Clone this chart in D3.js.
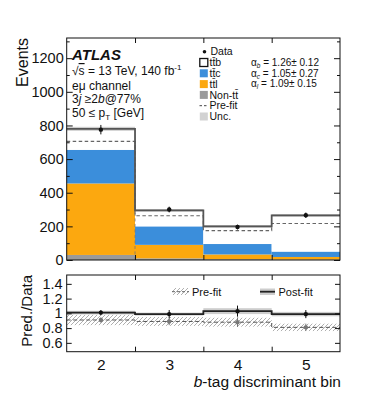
<!DOCTYPE html>
<html>
<head>
<meta charset="utf-8">
<script src="https://cdn.jsdelivr.net/npm/d3@7"></script>
<style>
  body { margin: 0; background: #fff; }
  text { font-family: "Liberation Sans", Arial, sans-serif; fill: #111; }
</style>
</head>
<body>
<div id="chart"></div>
<script>
// values
var bins = [2, 3, 4, 5];
var nonTT = [30, 10, 5, 3];
var ttl = [425, 80, 28, 15];
var ttc = [200, 110, 62, 32];
var ttb = [125, 95, 105, 215];
var dataVals = [775, 300, 196, 266];
var dataErr = [28, 17, 14, 16];
var preFit = [705, 263, 175, 217];
var postUnc = [12, 8, 8, 8];
var yTicks = [0, 200, 400, 600, 800, 1000, 1200];
var ratioTicks = [0.6, 0.8, 1, 1.2, 1.4];
var postRatio = [1.01, 0.99, 1.03, 0.99];
var postRatioErr = [0.035, 0.055, 0.075, 0.055];
var postBand = [0.025, 0.02, 0.04, 0.03];
var preRatio = [0.91, 0.89, 0.88, 0.81];
var preRatioErr = [0.035, 0.05, 0.065, 0.05];
var preBand = [0.07, 0.06, 0.06, 0.05];

var keys = ["nonTT", "ttl", "ttc", "ttb"];
var colors = { nonTT: "#9a9a9a", ttl: "#fca80f", ttc: "#3b8edb", ttb: "#ffffff" };

var rows = bins.map(function(b, i) {
  return { bin: b, nonTT: nonTT[i], ttl: ttl[i], ttc: ttc[i], ttb: ttb[i] };
});
var stacked = d3.stack().keys(keys)(rows);
var total = rows.map(function(r) { return r.nonTT + r.ttl + r.ttc + r.ttb; });

var W = 374, H = 397;
var L = 66.7, R = 340;
var svg = d3.select("#chart").append("svg").attr("width", W).attr("height", H);

var x = d3.scaleLinear().domain([1.5, 5.5]).range([L, R]);
var y = d3.scaleLinear().domain([0, 1320]).range([260, 38]);
var yr = d3.scaleLinear().domain([0.48, 1.52]).range([351.7, 275]);

var defs = svg.append("defs");
var pat = defs.append("pattern").attr("id", "hatch").attr("patternUnits", "userSpaceOnUse")
  .attr("width", 4).attr("height", 4);
pat.append("path").attr("d", "M-1,5 L5,-1").attr("stroke", "#9a9a9a").attr("stroke-width", 0.8);

function steps(vals, yscale) {
  var pts = [];
  vals.forEach(function(v, i) {
    pts.push([x(bins[i] - 0.5), yscale(v)]);
    pts.push([x(bins[i] + 0.5), yscale(v)]);
  });
  return d3.line()(pts);
}

// ---------- main panel ----------
var main = svg.append("g");
stacked.forEach(function(layer) {
  main.selectAll(null).data(layer).enter().append("rect")
    .attr("x", function(d, i) { return x(bins[i] - 0.5); })
    .attr("width", function(d, i) { return x(bins[i] + 0.5) - x(bins[i] - 0.5); })
    .attr("y", function(d) { return y(d[1]); })
    .attr("height", function(d) { return y(d[0]) - y(d[1]); })
    .attr("fill", colors[layer.key]);
});

// uncertainty band
main.selectAll(null).data(total).enter().append("rect")
  .attr("x", function(d, i) { return x(bins[i] - 0.5); })
  .attr("width", function(d, i) { return x(bins[i] + 0.5) - x(bins[i] - 0.5); })
  .attr("y", function(d, i) { return y(d + postUnc[i]); })
  .attr("height", function(d, i) { return y(d - postUnc[i]) - y(d + postUnc[i]); })
  .attr("fill", "#cfcfcf");

// pre-fit
main.append("path").attr("d", steps(preFit, y)).attr("fill", "none")
  .attr("stroke", "#666").attr("stroke-width", 1.2).attr("stroke-dasharray", "3.5,2.5");
main.append("line").attr("x1", x(2.5)).attr("x2", x(2.5)).attr("y1", y(preFit[0])).attr("y2", y(0))
  .attr("stroke", "#777").attr("stroke-width", 0.8).attr("stroke-dasharray", "3,2.5");

// post-fit total
main.append("path").attr("d", steps(total, y)).attr("fill", "none")
  .attr("stroke", "#555").attr("stroke-width", 1.8);

// data
var dg = main.selectAll(null).data(dataVals).enter().append("g");
dg.append("line")
  .attr("x1", function(d, i) { return x(bins[i]); }).attr("x2", function(d, i) { return x(bins[i]); })
  .attr("y1", function(d, i) { return y(d - dataErr[i]); }).attr("y2", function(d, i) { return y(d + dataErr[i]); })
  .attr("stroke", "#111").attr("stroke-width", 1);
dg.append("circle").attr("cx", function(d, i) { return x(bins[i]); }).attr("cy", function(d) { return y(d); })
  .attr("r", 2.2).attr("fill", "#111");

// axes main
function frame(g, top, bottom) {
  g.append("rect").attr("x", L).attr("y", top).attr("width", R - L).attr("height", bottom - top)
    .attr("fill", "none").attr("stroke", "#111").attr("stroke-width", 1);
}
frame(main, 38, 260);

function styleAxis(g) {
  g.select(".domain").remove();
  g.selectAll(".tick line").attr("stroke", "#111");
}
main.append("g").attr("transform", "translate(" + L + ",0)")
  .call(d3.axisLeft(y).tickValues(yTicks).tickSize(-6).tickPadding(3).tickFormat(d3.format("d")))
  .call(styleAxis)
  .selectAll("text").style("font-size", "14.5px").attr("fill", "#111");
main.append("g").attr("transform", "translate(" + L + ",0)")
  .call(d3.axisLeft(y).tickValues(d3.range(100, 1320, 200)).tickSize(-3).tickFormat(""))
  .call(styleAxis);
main.append("g").attr("transform", "translate(" + R + ",0)")
  .call(d3.axisRight(y).tickValues(yTicks).tickSize(-6).tickFormat(""))
  .call(styleAxis);
main.append("g").attr("transform", "translate(" + R + ",0)")
  .call(d3.axisRight(y).tickValues(d3.range(100, 1320, 200)).tickSize(-3).tickFormat(""))
  .call(styleAxis);
main.append("g").attr("transform", "translate(0,260)")
  .call(d3.axisBottom(x).tickValues([2.5, 3.5, 4.5]).tickSize(-5).tickFormat(""))
  .call(styleAxis);
main.append("g").attr("transform", "translate(0,38)")
  .call(d3.axisTop(x).tickValues([2.5, 3.5, 4.5]).tickSize(-5).tickFormat(""))
  .call(styleAxis);

svg.append("text").attr("transform", "translate(28,38) rotate(-90)")
  .attr("text-anchor", "end").style("font-size", "16px").text("Events");

// labels
var t = svg.append("g");
t.append("text").attr("x", 72).attr("y", 59.5).style("font-size", "15px")
  .style("font-weight", "bold").style("font-style", "italic").text("ATLAS");
var s = t.append("text").attr("x", 72).attr("y", 75).style("font-size", "12px");
s.append("tspan").text("\u221A");
s.append("tspan").style("text-decoration", "overline").text("s");
s.append("tspan").text(" = 13 TeV, 140 fb");
s.append("tspan").attr("dy", -5).style("font-size", "8px").text("-1");
t.append("text").attr("x", 72).attr("y", 89.5).style("font-size", "12px").text("e\u03BC channel");
var j = t.append("text").attr("x", 72).attr("y", 103).style("font-size", "12px");
j.append("tspan").text("3");
j.append("tspan").style("font-style", "italic").text("j");
j.append("tspan").text(" \u22652");
j.append("tspan").style("font-style", "italic").text("b");
j.append("tspan").text("@77%");
var p = t.append("text").attr("x", 72).attr("y", 116.5).style("font-size", "12px");
p.append("tspan").text("50 \u2264 p");
p.append("tspan").attr("dy", 3).style("font-size", "8px").text("T");
p.append("tspan").attr("dy", -3).text(" [GeV]");

// legend
var legRows = [
  { type: "data", label: "Data" },
  { type: "box", fill: colors.ttb, stroke: "#111", label: "tt\u0304b" },
  { type: "box", fill: colors.ttc, label: "tt\u0304c" },
  { type: "box", fill: colors.ttl, label: "tt\u0304l" },
  { type: "box", fill: colors.nonTT, label: "Non-tt\u0304" },
  { type: "dash", label: "Pre-fit" },
  { type: "box", fill: "#d2d2d2", label: "Unc." }
];
var lg = svg.append("g");
legRows.forEach(function(r, i) {
  var cy = 51.7 + i * 10.8;
  if (r.type === "data") {
    lg.append("circle").attr("cx", 204.5).attr("cy", cy).attr("r", 1.8).attr("fill", "#111");
  } else if (r.type === "box") {
    lg.append("rect").attr("x", 199.8).attr("y", cy - 4).attr("width", 8).attr("height", 8)
      .attr("fill", r.fill).attr("stroke", r.stroke || "none").attr("stroke-width", 1.3);
  } else {
    lg.append("line").attr("x1", 199.5).attr("x2", 208.5).attr("y1", cy).attr("y2", cy)
      .attr("stroke", "#444").attr("stroke-width", 1).attr("stroke-dasharray", "2.5,2");
  }
  lg.append("text").attr("x", r.type === "data" ? 210.5 : 209.5).attr("y", cy + 3.6)
    .style("font-size", "10.5px").text(r.label);
});

var alphas = [["b", "1.26", "0.12"], ["c", "1.05", "0.27"], ["l", "1.09", "0.15"]];
alphas.forEach(function(a, i) {
  var at = lg.append("text").attr("x", 251).attr("y", 62.7 + i * 10.5 + 3.3).style("font-size", "10px");
  at.append("tspan").text("\u03B1");
  at.append("tspan").attr("dy", 2).style("font-size", "6.5px").style("font-style", "italic").text(a[0]);
  at.append("tspan").attr("dy", -2).text(" = " + a[1] + "\u00B1 " + a[2]);
});

// ---------- ratio panel ----------
var rp = svg.append("g");
rp.selectAll(null).data(preRatio).enter().append("rect")
  .attr("x", function(d, i) { return x(bins[i] - 0.5); })
  .attr("width", function(d, i) { return x(bins[i] + 0.5) - x(bins[i] - 0.5); })
  .attr("y", function(d, i) { return yr(d + preBand[i]); })
  .attr("height", function(d, i) { return yr(d - preBand[i]) - yr(d + preBand[i]); })
  .attr("fill", "url(#hatch)");
rp.selectAll(null).data(postRatio).enter().append("rect")
  .attr("x", function(d, i) { return x(bins[i] - 0.5); })
  .attr("width", function(d, i) { return x(bins[i] + 0.5) - x(bins[i] - 0.5); })
  .attr("y", function(d, i) { return yr(d + postBand[i]); })
  .attr("height", function(d, i) { return yr(d - postBand[i]) - yr(d + postBand[i]); })
  .attr("fill", "#cdcdcd");
rp.append("path").attr("d", steps(preRatio, yr)).attr("fill", "none")
  .attr("stroke", "#555").attr("stroke-width", 1).attr("stroke-dasharray", "4,2.5");
rp.append("path").attr("d", steps(postRatio, yr)).attr("fill", "none")
  .attr("stroke", "#222").attr("stroke-width", 1.8);

function points(vals, errs, col) {
  var g = rp.selectAll(null).data(vals).enter().append("g");
  g.append("line")
    .attr("x1", function(d, i) { return x(bins[i]); }).attr("x2", function(d, i) { return x(bins[i]); })
    .attr("y1", function(d, i) { return yr(d - errs[i]); }).attr("y2", function(d, i) { return yr(d + errs[i]); })
    .attr("stroke", col).attr("stroke-width", 1);
  g.append("circle").attr("cx", function(d, i) { return x(bins[i]); }).attr("cy", function(d) { return yr(d); })
    .attr("r", 2.2).attr("fill", col);
}
points(preRatio, preRatioErr, "#777");
points(postRatio, postRatioErr, "#111");

frame(rp, 275, 351.7);
rp.append("g").attr("transform", "translate(" + L + ",0)")
  .call(d3.axisLeft(yr).tickValues(ratioTicks).tickSize(-5).tickPadding(4).tickFormat(d3.format("")))
  .call(styleAxis)
  .selectAll("text").style("font-size", "14.5px").attr("fill", "#111");
rp.append("g").attr("transform", "translate(" + R + ",0)")
  .call(d3.axisRight(yr).tickValues(ratioTicks).tickSize(-5).tickFormat(""))
  .call(styleAxis);
rp.append("g").attr("transform", "translate(0,351.7)")
  .call(d3.axisBottom(x).tickValues([2.5, 3.5, 4.5]).tickSize(-5).tickFormat(""))
  .call(styleAxis);
rp.append("g").attr("transform", "translate(0,275)")
  .call(d3.axisTop(x).tickValues([2.5, 3.5, 4.5]).tickSize(-5).tickFormat(""))
  .call(styleAxis);
rp.append("g").attr("transform", "translate(0,351.7)")
  .call(d3.axisBottom(x).tickValues(bins).tickSize(0).tickPadding(7).tickFormat(d3.format("d")))
  .call(styleAxis)
  .selectAll("text").style("font-size", "15.5px").attr("fill", "#111");

svg.append("text").attr("transform", "translate(32,275) rotate(-90)")
  .attr("text-anchor", "end").style("font-size", "15px").text("Pred./Data");
var xt = svg.append("text").attr("x", 341).attr("y", 387).attr("text-anchor", "end").style("font-size", "15.5px");
xt.append("tspan").style("font-style", "italic").text("b");
xt.append("tspan").text("-tag discriminant bin");

// ratio legend
rp.append("rect").attr("x", 172).attr("y", 288).attr("width", 17).attr("height", 7).attr("fill", "url(#hatch)");
rp.append("line").attr("x1", 172).attr("x2", 189).attr("y1", 291.7).attr("y2", 291.7)
  .attr("stroke", "#666").attr("stroke-width", 1).attr("stroke-dasharray", "3,2");
rp.append("text").attr("x", 192).attr("y", 295.5).style("font-size", "11px").text("Pre-fit");
rp.append("rect").attr("x", 260).attr("y", 288.5).attr("width", 15).attr("height", 6.5).attr("fill", "#cdcdcd");
rp.append("line").attr("x1", 260).attr("x2", 275).attr("y1", 291.7).attr("y2", 291.7)
  .attr("stroke", "#222").attr("stroke-width", 1.8);
rp.append("text").attr("x", 278.5).attr("y", 295.5).style("font-size", "11px").text("Post-fit");
</script>
</body>
</html>
